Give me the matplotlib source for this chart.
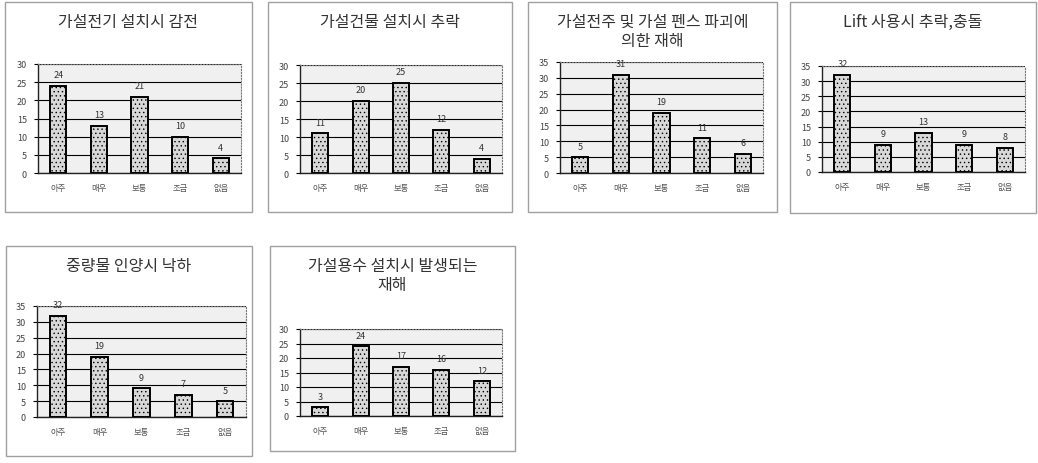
import matplotlib.pyplot as plt
from matplotlib.patches import Rectangle
import numpy as np

plt.rcParams['font.family'] = ['Noto Sans CJK KR', 'DejaVu Sans']
plt.rcParams['hatch.color'] = '#a8a8a8'
plt.rcParams['hatch.linewidth'] = 0.5

categories = ['아주', '매우', '보통', '조금', '없음']

titles = [
    '가설전기 설치시 감전',
    '가설건물 설치시 추락',
    '가설전주 및 가설 펜스 파괴에\n의한 재해',
    'Lift 사용시 추락,충돌',
    '중량물 인양시 낙하',
    '가설용수 설치시 발생되는\n재해',
]
values = [
    [24, 13, 21, 10, 4],
    [11, 20, 25, 12, 4],
    [5, 31, 19, 11, 6],
    [32, 9, 13, 9, 8],
    [32, 19, 9, 7, 5],
    [3, 24, 17, 16, 12],
]
ymax = [30, 30, 35, 35, 35, 30]

W, H = 1038, 464
# panel box (x0, y0, x1, y1) and plot area (x0, y0, x1, y1) in pixels from top-left
boxes = [(5, 3, 252, 213), (268, 3, 512, 213), (528, 3, 777, 213),
         (790, 3, 1036, 214), (6, 247, 252, 457), (270, 247, 515, 452)]
areas = [(38, 65, 241, 174), (300, 66, 502, 174), (560, 63, 763, 174),
         (822, 67, 1025, 173), (37, 307, 246, 418), (300, 330, 502, 417)]

fig = plt.figure(figsize=(W / 100, H / 100), dpi=100)
fig.patch.set_facecolor('white')

for i in range(6):
    bx0, by0, bx1, by1 = boxes[i]
    fig.patches.append(Rectangle((bx0 / W, 1 - by1 / H), (bx1 - bx0) / W, (by1 - by0) / H,
                                 transform=fig.transFigure, fill=False,
                                 edgecolor='#a0a0a0', linewidth=1.0))
    fig.text((bx0 + bx1) / 2 / W, 1 - (by0 + 11) / H, titles[i], ha='center', va='top',
             fontsize=11.5, color='#333333', linespacing=1.15)

    ax0, ay0, ax1, ay1 = areas[i]
    ax = fig.add_axes([ax0 / W, 1 - ay1 / H, (ax1 - ax0) / W, (ay1 - ay0) / H])
    ax.set_facecolor('#f0f0f0')
    x = np.arange(len(categories))
    ax.bar(x, values[i], width=0.4, facecolor='#d8d8d8', edgecolor='black',
           linewidth=1.4, hatch='....', zorder=3)
    for xi, v in zip(x, values[i]):
        ax.annotate(str(v), (xi, v), xytext=(0, 8), textcoords='offset points',
                    ha='center', va='center', fontsize=6.5, color='#333333', zorder=4)
    ax.set_xlim(-0.5, len(categories) - 0.5)
    ax.set_ylim(0, ymax[i])
    ax.set_yticks(np.arange(0, ymax[i] + 1, 5))
    ax.set_xticks(x)
    ax.set_xticklabels(categories)
    ax.yaxis.grid(True, color='black', linewidth=0.8)
    ax.set_axisbelow(True)
    ax.tick_params(axis='x', length=0, pad=7, labelsize=6, labelcolor='#555555')
    ax.tick_params(axis='y', length=3, width=0.8, pad=5, labelsize=6.5, labelcolor='#444444')
    for s in ['top', 'right']:
        ax.spines[s].set_linestyle(':')
        ax.spines[s].set_color('#777777')
        ax.spines[s].set_linewidth(0.8)
    for s in ['left', 'bottom']:
        ax.spines[s].set_color('#222222')
        ax.spines[s].set_linewidth(1.0)

fig.savefig('out.png', dpi=100)
